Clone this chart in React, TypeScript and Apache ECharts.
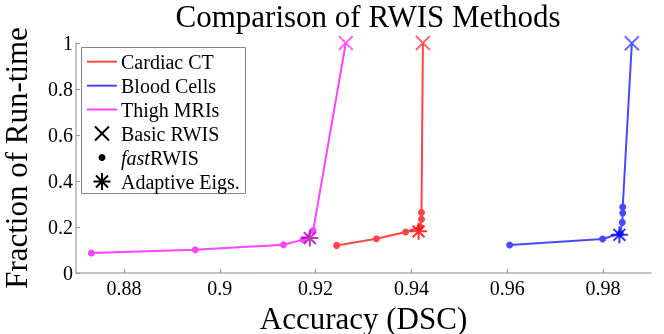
import React, { useEffect, useRef } from "react";
import * as echarts from "echarts";

const xTicks = [0.88, 0.9, 0.92, 0.94, 0.96, 0.98];

const cardiacFastX = [0.9244, 0.9327, 0.9388, 0.9418, 0.9421, 0.9421];
const cardiacFastY = [0.12, 0.149, 0.178, 0.2, 0.234, 0.263];
const cardiacBasic = [0.9424, 1.0];
const cardiacAdaptive = [0.9415, 0.181];

const bloodFastX = [0.9605, 0.9799, 0.9836, 0.984, 0.9841, 0.9841];
const bloodFastY = [0.122, 0.148, 0.172, 0.22, 0.261, 0.287];
const bloodBasic = [0.986, 0.999];
const bloodAdaptive = [0.9834, 0.166];

const thighFastX = [0.8732, 0.8949, 0.9133, 0.9174, 0.9195];
const thighFastY = [0.087, 0.101, 0.123, 0.145, 0.185];
const thighBasic = [0.9263, 1.0];
const thighAdaptive = [0.9188, 0.152];

const datasetNames = ["Cardiac CT", "Blood Cells", "Thigh MRIs"];
const lineColors = ["#ff4545", "#4848ff", "#ff45ff"];
const starColors = ["#ff0000", "#0000ff", "#b000b0"];

const CROSS = "path://M0,0L10,10M0,10L10,0";
const STAR = "path://M5,0L5,10M0,5L10,5M1.5,1.5L8.5,8.5M1.5,8.5L8.5,1.5";
const FONT = "Liberation Serif";

export default function App() {
  const ref = useRef<HTMLDivElement>(null);
  useEffect(() => {
    if (!ref.current) return;
    const chart = echarts.init(ref.current, null, { renderer: "svg" });
    const groups = [
      [cardiacFastX, cardiacFastY, cardiacBasic, cardiacAdaptive],
      [bloodFastX, bloodFastY, bloodBasic, bloodAdaptive],
      [thighFastX, thighFastY, thighBasic, thighAdaptive],
    ] as any[];
    const series: any[] = [];
    groups.forEach((g, i) => {
      const [fx, fy, basic, adaptive] = g;
      const pts: any[] = fx.map((x: number, k: number) => [x, fy[k]]);
      pts.push({ value: basic, symbol: "none" });
      series.push({
        type: "line",
        name: datasetNames[i],
        data: pts,
        symbol: "circle",
        symbolSize: 7,
        lineStyle: { color: lineColors[i], width: 2 },
        itemStyle: { color: lineColors[i] },
        z: 2,
      });
      series.push({
        type: "scatter",
        data: [basic],
        symbol: CROSS,
        symbolSize: 14,
        itemStyle: { color: "rgba(0,0,0,0)", borderColor: lineColors[i], borderWidth: 2 },
        z: 3,
      });
      series.push({
        type: "scatter",
        data: [adaptive],
        symbol: STAR,
        symbolSize: 17,
        itemStyle: { color: "rgba(0,0,0,0)", borderColor: starColors[i], borderWidth: 2 },
        z: 4,
      });
    });

    const lx = 102;
    const rows = [61.7, 85.7, 109.5, 133.5, 157.5, 181.5];
    const legendTexts = ["Cardiac CT", "Blood Cells", "Thigh MRIs", "Basic RWIS", "", "Adaptive Eigs."];
    const graphics: any[] = [
      {
        type: "text",
        x: 368,
        y: 1,
        style: { text: "Comparison of RWIS Methods", fontFamily: FONT, fontSize: 31, fill: "#000", textAlign: "center" },
      },
      {
        type: "rect",
        shape: { x: 81.5, y: 47.5, width: 164, height: 146 },
        style: { fill: "#fff", stroke: "#888", lineWidth: 1 },
        z: 10,
      },
    ];
    for (let i = 0; i < 3; i++) {
      graphics.push({
        type: "line",
        shape: { x1: 87, y1: rows[i], x2: 117, y2: rows[i] },
        style: { stroke: lineColors[i], lineWidth: 2 },
        z: 11,
      });
    }
    const s = 7;
    graphics.push({ type: "line", shape: { x1: lx - s, y1: rows[3] - s, x2: lx + s, y2: rows[3] + s }, style: { stroke: "#000", lineWidth: 2 }, z: 11 });
    graphics.push({ type: "line", shape: { x1: lx - s, y1: rows[3] + s, x2: lx + s, y2: rows[3] - s }, style: { stroke: "#000", lineWidth: 2 }, z: 11 });
    graphics.push({ type: "circle", shape: { cx: lx, cy: rows[4], r: 3.5 }, style: { fill: "#000" }, z: 11 });
    const r = 8.5;
    const d = 6;
    [
      [0, -r, 0, r],
      [-r, 0, r, 0],
      [-d, -d, d, d],
      [-d, d, d, -d],
    ].forEach((a) =>
      graphics.push({
        type: "line",
        shape: { x1: lx + a[0], y1: rows[5] + a[1], x2: lx + a[2], y2: rows[5] + a[3] },
        style: { stroke: "#000", lineWidth: 2 },
        z: 11,
      })
    );
    legendTexts.forEach((t, i) => {
      if (!t) return;
      graphics.push({
        type: "text",
        x: 121,
        y: rows[i],
        z: 11,
        style: { text: t, fontFamily: FONT, fontSize: 20, fill: "#000", textVerticalAlign: "middle" },
      });
    });
    graphics.push({
      type: "text",
      x: 121,
      y: rows[4],
      z: 11,
      style: { text: "fast", fontFamily: FONT, fontSize: 20, fontStyle: "italic", fill: "#000", textVerticalAlign: "middle" },
    });
    graphics.push({
      type: "text",
      x: 150,
      y: rows[4],
      z: 11,
      style: { text: "RWIS", fontFamily: FONT, fontSize: 20, fill: "#000", textVerticalAlign: "middle" },
    });

    chart.setOption({
      animation: false,
      textStyle: { fontFamily: FONT },
      grid: { left: 76, right: 13, top: 43, bottom: 61, containLabel: false, outerBoundsMode: "none" },
      xAxis: {
        type: "value",
        min: 0.87,
        max: 0.99,
        name: "Accuracy (DSC)",
        nameLocation: "middle",
        nameGap: 23,
        nameTextStyle: { fontFamily: FONT, fontSize: 31, color: "#000" },
        axisLine: { lineStyle: { color: "#b0b0b0", width: 1.5 } },
        axisTick: { inside: true, length: 4, lineStyle: { color: "#999" }, customValues: xTicks },
        axisLabel: { customValues: xTicks, fontFamily: FONT, fontSize: 20, color: "#000", margin: 5 },
        splitLine: { show: false },
      },
      yAxis: {
        type: "value",
        min: 0,
        max: 1,
        interval: 0.2,
        name: "Fraction of Run-time",
        nameLocation: "middle",
        nameRotate: 90,
        nameGap: 44,
        nameTextStyle: { fontFamily: FONT, fontSize: 31, color: "#000" },
        axisLine: { show: true, lineStyle: { color: "#b0b0b0", width: 1.5 } },
        axisTick: { show: true, inside: true, length: 4, lineStyle: { color: "#999" } },
        axisLabel: { fontFamily: FONT, fontSize: 20, color: "#000", margin: 3 },
        splitLine: { show: false },
      },
      graphic: graphics,
      series,
    });
    return () => chart.dispose();
  }, []);
  return <div ref={ref} style={{ position: "fixed", left: 0, top: 0, width: 664, height: 334 }} />;
}
